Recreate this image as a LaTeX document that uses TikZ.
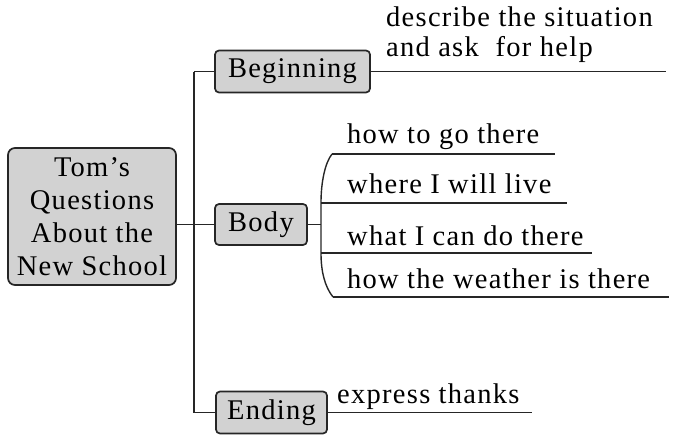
\documentclass[tikz,border=0pt]{standalone}
\usepackage{fontspec}
\setmainfont{Liberation Serif}[LetterSpace=4.5]
\begin{document}
\begin{tikzpicture}[x=1pt,y=-1pt,
  boxstyle/.style={draw=black!85, line width=1.7pt, fill=gray!35, rounded corners=4pt, inner sep=0pt},
  conn/.style={line width=1.4pt, black!85},
  big/.style={font=\fontsize{28.5}{33}\selectfont},
  txt/.style={anchor=base west, inner sep=0pt, big}
]
\useasboundingbox (0,0) rectangle (683,439);
% main box
\node[boxstyle, big, rounded corners=7pt, minimum width=168pt, minimum height=137pt, align=center] (main) at (92,216.5) {Tom's\\Questions\\About the\\New School};
% branch boxes
\node[boxstyle, big, minimum width=155pt, minimum height=42pt] (beg) at (292.5,71.5) {Beginning};
\node[boxstyle, big, minimum width=92pt, minimum height=41pt] (body) at (261,224.5) {Body};
\node[boxstyle, big, minimum width=111pt, minimum height=42pt] (end) at (271.5,412.5) {Ending};
% trunk
\coordinate (jt) at (194,71.5);
\coordinate (jm) at (194,224.5);
\coordinate (jb) at (194,412.5);
\draw[conn] (main.east |- jm) -- (jm);
\draw[conn] (jt) -- (jb);
\draw[conn] (jt) -- (beg.west);
\draw[conn] (jm) -- (body.west);
\draw[conn] (jb) -- (end.west);
% beginning branch
\coordinate (bl) at (666,71.5);
\draw[conn] (beg.east) -- (bl);
\node[txt] (b1) at (386,27) {describe the situation};
\node[txt] (b2) at (386,56) {and ask\ \ for help};
% body branch
\coordinate (bk) at (321,224.5);
\draw[conn] (body.east) -- (bk);
\coordinate (l1s) at (332,154);
\coordinate (l1e) at (555,154);
\coordinate (l2s) at (321,203);
\coordinate (l2e) at (567,203);
\coordinate (l3s) at (321,253);
\coordinate (l3e) at (592,253);
\coordinate (l4s) at (333,297);
\coordinate (l4e) at (669,297);
\draw[conn] (l1s) .. controls (325,163) and (321,182) .. (l2s) -- (l3s)
  .. controls (321,272) and (325,287) .. (l4s);
\draw[conn] (l1s) -- (l1e);
\draw[conn] (l2s) -- (l2e);
\draw[conn] (l3s) -- (l3e);
\draw[conn] (l4s) -- (l4e);
\node[txt] (t1) at (347,143) {how to go there};
\node[txt] (t2) at (347,193) {where I will live};
\node[txt] (t3) at (347,245) {what I can do there};
\node[txt] (t4) at (347,288) {how the weather is there};
% ending branch
\coordinate (el) at (532,412.5);
\draw[conn] (end.east) -- (el);
\node[txt] (e1) at (337,403) {express thanks};
\end{tikzpicture}
\end{document}
